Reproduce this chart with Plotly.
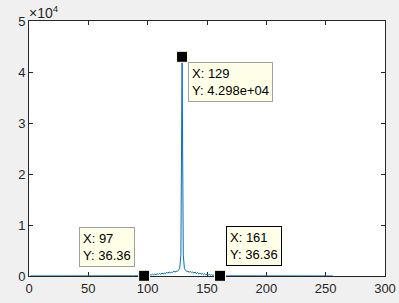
import plotly.graph_objects as go

# ---- data ----
tail_left = [
    8, 9, 8, 10, 9, 11, 10, 12, 11, 12, 11, 13, 12, 13, 12, 14,
    13, 14, 13, 15, 14, 15, 14, 16, 15, 16, 15, 17, 16, 17, 16, 18,
    17, 18, 17, 19, 18, 19, 18, 20, 19, 20, 19, 21, 20, 21, 20, 22,
    21, 22, 21, 23, 22, 23, 22, 24, 23, 24, 23, 25, 24, 25, 24, 26,
    25, 26, 25, 27, 26, 27, 26, 28, 27, 28, 27, 29, 28, 29, 28, 30,
    29, 30, 29, 31, 30, 31, 31, 32, 32, 33, 32, 34, 33, 35, 34, 36,
]
ripple_left = [
    36.36, 150, 90, 220, 120, 280, 160, 340, 200, 400, 240, 460, 290, 520, 330, 600,
    380, 560, 450, 760, 520, 820, 600, 740, 680, 1000, 740, 960, 880, 1150, 1500, 4200,
]
peak = [42980]
ripple_right = [
    4100, 1450, 1150, 860, 980, 700, 940, 660, 780, 560, 800, 450, 700, 400, 580, 340,
    500, 270, 430, 230, 370, 200, 310, 160, 260, 130, 210, 100, 170, 80, 130, 36.36,
]
tail_right = [
    35, 34, 33, 34, 32, 33, 31, 32, 30, 31, 29, 30, 28, 29, 27, 28,
    26, 27, 25, 26, 24, 25, 23, 24, 22, 23, 21, 22, 20, 21, 19, 20,
    19, 20, 18, 19, 17, 18, 17, 18, 16, 17, 16, 17, 15, 16, 15, 16,
    14, 15, 14, 15, 13, 14, 13, 14, 12, 13, 12, 13, 11, 12, 11, 12,
    11, 12, 10, 11, 10, 11, 10, 11, 9, 10, 9, 10, 9, 10, 9, 10,
    8, 9, 8, 9, 8, 9, 8, 9, 8, 9, 8, 9, 8, 9, 8,
]
y_vals = tail_left + ripple_left + peak + ripple_right + tail_right
x_vals = list(range(1, len(y_vals) + 1))

tip_x = [97, 129, 161]
tip_y = [36.36, 42980, 36.36]
tip_labels = ["X: 97<br>Y: 36.36", "X: 129<br>Y: 4.298e+04", "X: 161<br>Y: 36.36"]
tip_box_pos = [(42, 9700), (134, 42000), (166, 9900)]
tip_border = ["#a0a0a0", "#a0a0a0", "#000000"]

x_ticks = [0, 50, 100, 150, 200, 250, 300]
y_ticks = [0, 10000, 20000, 30000, 40000, 50000]
y_ticktext = ["0", "1", "2", "3", "4", "5"]

FONT = "Liberation Sans, Arial, sans-serif"
AX = "#262626"

fig = go.Figure()
fig.add_trace(go.Scatter(x=x_vals, y=y_vals, mode="lines",
                         line=dict(color="#0072BD", width=1), cliponaxis=False,
                         hoverinfo="skip"))
fig.add_trace(go.Scatter(x=tip_x, y=tip_y, mode="markers", cliponaxis=False,
                         hoverinfo="skip",
                         marker=dict(symbol="square", size=11, color="black",
                                     line=dict(color="#ffffe8", width=1))))

for (bx, by), txt, bc in zip(tip_box_pos, tip_labels, tip_border):
    fig.add_annotation(x=bx, y=by, xref="x", yref="y", text=txt, showarrow=False,
                       xanchor="left", yanchor="top", align="left",
                       font=dict(family=FONT, size=13, color="black"),
                       bgcolor="#ffffe8", bordercolor=bc, borderwidth=1, borderpad=3)

fig.add_annotation(x=0, y=1, xref="paper", yref="paper", xanchor="left", yanchor="bottom",
                   text="×10<sup>4</sup>", showarrow=False, yshift=-2, xshift=-2,
                   font=dict(family=FONT, size=14, color=AX))

fig.update_layout(
    width=399, height=303,
    margin=dict(l=29, r=14, t=21, b=27),
    paper_bgcolor="#f0f0f0", plot_bgcolor="white",
    showlegend=False,
    font=dict(family=FONT, size=13, color=AX),
)
fig.update_xaxes(range=[0, 300], tickvals=x_ticks, ticks="inside", ticklen=4,
                 tickcolor=AX, showline=True, linecolor=AX, linewidth=1, mirror="allticks",
                 showgrid=False, zeroline=False, layer="below traces", automargin=False,
                 tickfont=dict(size=13))
fig.update_yaxes(range=[0, 50000], tickvals=y_ticks, ticktext=y_ticktext, ticks="inside",
                 ticklen=4, tickcolor=AX, showline=True, linecolor=AX, linewidth=1,
                 mirror="allticks", showgrid=False, zeroline=False, layer="below traces",
                 automargin=False, tickfont=dict(size=13))

fig.write_html("out.html")
